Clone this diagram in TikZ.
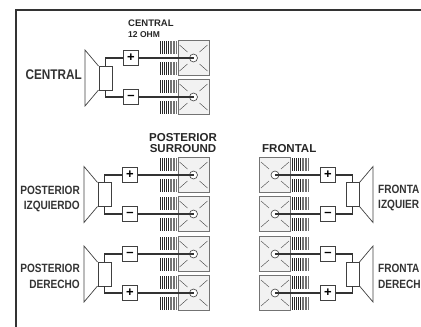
\documentclass[tikz,border=0pt]{standalone}
\usepackage{fontspec}
\setmainfont{Liberation Sans}
\newfontfamily\narrowfont[FakeStretch=0.84]{Liberation Sans}
\tikzset{
    line/.style={draw=black!75,line width=0.7pt},
    wire/.style={draw=black!80,line width=1.1pt},
    term/.style={draw=black!75,fill=white,line width=0.7pt,minimum width=15pt,minimum height=15pt,inner sep=0pt,font=\bfseries\fontsize{13}{13}\selectfont},
    magnet/.style={draw=black!75,fill=white,line width=0.7pt,minimum width=13pt,minimum height=24pt,inner sep=0pt},
    ampbox/.style={draw=black!55,fill=black!5,line width=0.6pt,minimum width=31pt,minimum height=35pt,inner sep=0pt},
    hub/.style={circle,draw=black!75,fill=white,line width=0.6pt,minimum size=8pt,inner sep=0pt},
    title/.style={font=\bfseries\fontsize{11.5}{11}\selectfont,inner sep=0pt,text=black!85},
    label/.style={font=\narrowfont\bfseries\fontsize{12}{15.5}\selectfont,inner sep=0pt,text=black!80}
}
\begin{document}
\begin{tikzpicture}[x=1pt,y=-1pt]
    \useasboundingbox (0,0) rectangle (421,327);
    %frame
    \coordinate (fa) at (16,327);
    \coordinate (fb) at (16,10);
    \coordinate (fc) at (421,10);
    \draw[black!80,line width=1.4pt] (fa) -- (fb) -- (fc);
    %amplifier channels with their terminals
    \foreach \n/\a/\g/\t/\y/\lab in {1/193.5/160/131/58/+, 2/193.5/160/131/97/--,
        3/193.5/160/130/175/+, 4/193.5/160/130/214/--, 5/193.5/160/130/254/--, 6/193.5/160/130/293/+,
        7/275/292/328/175/+, 8/275/292/328/214/--, 9/275/292/328/254/--, 10/275/292/328/293/+} {
        \foreach \h in {0,2,4,6,8} {
            \draw[black!85,line width=0.9pt] (\g+\h,\y-17) -- (\g+\h,\y-4);
            \draw[black!85,line width=0.9pt] (\g+\h,\y+4) -- (\g+\h,\y+17);
        }
        \foreach \h in {10,11.5,13,14.5,16} {
            \draw[black!55,line width=1pt] (\g+\h,\y-17) -- (\g+\h,\y-4);
            \draw[black!55,line width=1pt] (\g+\h,\y+4) -- (\g+\h,\y+17);
        }
        \node[ampbox] (box\n) at (\a,\y) {};
        \draw[black!75,line width=0.4pt] (\a-14,\y-13) -- (\a-6,\y-6);
        \draw[black!75,line width=0.4pt] (\a+14,\y-13) -- (\a+6,\y-6);
        \draw[black!75,line width=0.4pt] (\a-14,\y+13) -- (\a-6,\y+6);
        \draw[black!75,line width=0.4pt] (\a+14,\y+13) -- (\a+6,\y+6);
        \node[hub] (hub\n) at (\a,\y) {};
        \node[term] (t\n) at (\t,\y) {};
        \draw[wire] (t\n) -- (hub\n.center); % terminal to channel
        \node[term] at (t\n) {\lab};
    }
    %speakers
    \foreach \k/\m/\d/\e/\y/\u/\v in {a/105.5/-14/85/78/1/2, b/104.5/-14/84/194.5/3/4, c/104.5/-14/84/274/5/6,
        d/352.5/14/373/194.5/7/8, e/352.5/14/373/274/9/10} {
        \node[magnet] (m\k) at (\m,\y) {};
        \draw[line] (\m+\d/2,\y-12) -- (\e,\y-28) -- (\e,\y+28) -- (\m+\d/2,\y+12);
        \draw[wire] (m\k.north) |- (t\u);
        \draw[wire] (m\k.south) |- (t\v);
    }
    %texts
    \node[title,font=\bfseries\fontsize{9.5}{10}\selectfont,anchor=west] (ca) at (128,23) {CENTRAL};
    \node[title,font=\bfseries\fontsize{8.5}{9}\selectfont,anchor=west] (cb) at (128,35) {12 OHM};
    \node[label,font=\narrowfont\bfseries\fontsize{14}{14}\selectfont,anchor=east] (lc) at (82,75) {CENTRAL};
    \node[title,align=center] (ps) at (183,143) {POSTERIOR\\SURROUND};
    \node[title,anchor=west] (fr) at (262,149) {FRONTAL};
    \node[label,align=right,anchor=east] (pi) at (80,199) {POSTERIOR\\IZQUIERDO};
    \node[label,align=right,anchor=east] (pd) at (80,276.5) {POSTERIOR\\DERECHO};
    \node[label,align=left,anchor=west] (fi) at (378,198) {FRONTA\\IZQUIER};
    \node[label,align=left,anchor=west] (fd) at (378,276.5) {FRONTA\\DERECH};
\end{tikzpicture}
\end{document}
